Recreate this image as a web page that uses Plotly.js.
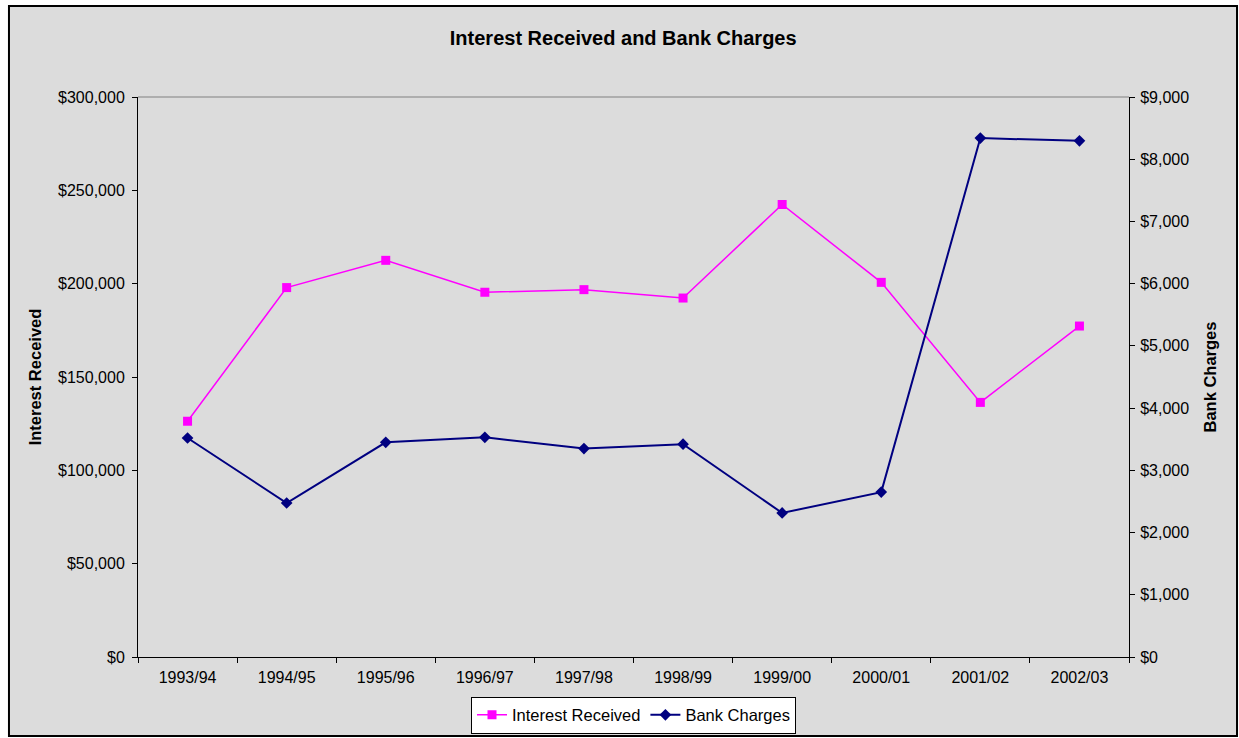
<!DOCTYPE html>
<html>
<head>
<meta charset="utf-8">
<script src="https://cdn.plot.ly/plotly-3.0.1.min.js"></script>
<style>
  html, body { margin: 0; padding: 0; background: #ffffff; }
  #chart { width: 1239px; height: 738px; }
</style>
</head>
<body>
<div id="chart"></div>
<script>
const years = ["1993/94","1994/95","1995/96","1996/97","1997/98","1998/99","1999/00","2000/01","2001/02","2002/03"];
const interestReceived = [126300, 197900, 212500, 195400, 196800, 192300, 242400, 200700, 136400, 177300];
const bankCharges = [3520, 2475, 3450, 3530, 3350, 3420, 2315, 2650, 8340, 8295];

const FONT = "Liberation Sans, Arial, sans-serif";

const traces = [
  {
    x: years, y: interestReceived, name: "Interest Received",
    type: "scatter", mode: "lines+markers", yaxis: "y",
    line: {color: "#FF00FF", width: 1.5},
    marker: {symbol: "square", size: 9, color: "#FF00FF"}
  },
  {
    x: years, y: bankCharges, name: "Bank Charges",
    type: "scatter", mode: "lines+markers", yaxis: "y2",
    line: {color: "#000080", width: 2},
    marker: {symbol: "diamond", size: 9, color: "#000080"}
  }
];

const layout = {
  width: 1239, height: 738,
  margin: {l: 138, r: 110, t: 97, b: 81, pad: 0, autoexpand: false},
  paper_bgcolor: "#ffffff",
  plot_bgcolor: "rgba(0,0,0,0)",
  font: {family: FONT, size: 16, color: "#000000"},
  title: {
    text: "<b>Interest Received and Bank Charges</b>",
    font: {family: FONT, size: 20, color: "#000000"},
    x: 0.503, xanchor: "center", y: 0.948, yanchor: "middle"
  },
  showlegend: true,
  legend: {
    orientation: "h", x: 0.5, xanchor: "center",
    yref: "container", y: 0.006, yanchor: "bottom",
    bgcolor: "#ffffff", bordercolor: "#000000", borderwidth: 1,
    font: {family: FONT, size: 16.5, color: "#000000"},
    itemwidth: 30, tracegroupgap: 0
  },
  xaxis: {
    type: "category", automargin: false,
    range: [-0.5, 9.5],
    showgrid: false, zeroline: false,
    showline: true, linecolor: "#000000", linewidth: 1,
    ticks: "outside", ticklen: 5, tickcolor: "#000000",
    tickson: "boundaries", ticklabelstandoff: 6,
    tickfont: {family: FONT, size: 16, color: "#000000"},
    fixedrange: true
  },
  yaxis: {
    automargin: false,
    range: [0, 300000], dtick: 50000,
    tickprefix: "$", tickformat: ",d",
    showgrid: false, zeroline: false,
    showline: true, linecolor: "#000000", linewidth: 1,
    ticks: "outside", ticklen: 5, tickcolor: "#000000",
    ticklabelstandoff: 4,
    tickfont: {family: FONT, size: 16, color: "#000000"},
    title: {text: "<b>Interest Received</b>", font: {family: FONT, size: 16.5, color: "#000000"}, standoff: 12}
  },
  yaxis2: {
    automargin: false,
    overlaying: "y", side: "right",
    range: [0, 9000], dtick: 1000,
    tickprefix: "$", tickformat: ",d",
    showgrid: false, zeroline: false,
    showline: true, linecolor: "#000000", linewidth: 1,
    ticks: "outside", ticklen: 5, tickcolor: "#000000",
    ticklabelstandoff: 2,
    tickfont: {family: FONT, size: 16, color: "#000000"},
    title: {text: "<b>Bank Charges</b>", font: {family: FONT, size: 16.5, color: "#000000"}, standoff: 16}
  },
  shapes: [
    {
      type: "rect", xref: "paper", yref: "paper", layer: "below",
      x0: -0.1302, x1: 1.1090, y0: -0.1410, y1: 1.1625,
      fillcolor: "#dcdcdc", line: {color: "#000000", width: 2}
    },
    {
      type: "line", xref: "paper", yref: "paper", layer: "below",
      x0: 0, x1: 1, y0: 1, y1: 1,
      line: {color: "#808080", width: 1}
    }
  ]
};

Plotly.newPlot("chart", traces, layout, {displayModeBar: false, staticPlot: true});
</script>
</body>
</html>
